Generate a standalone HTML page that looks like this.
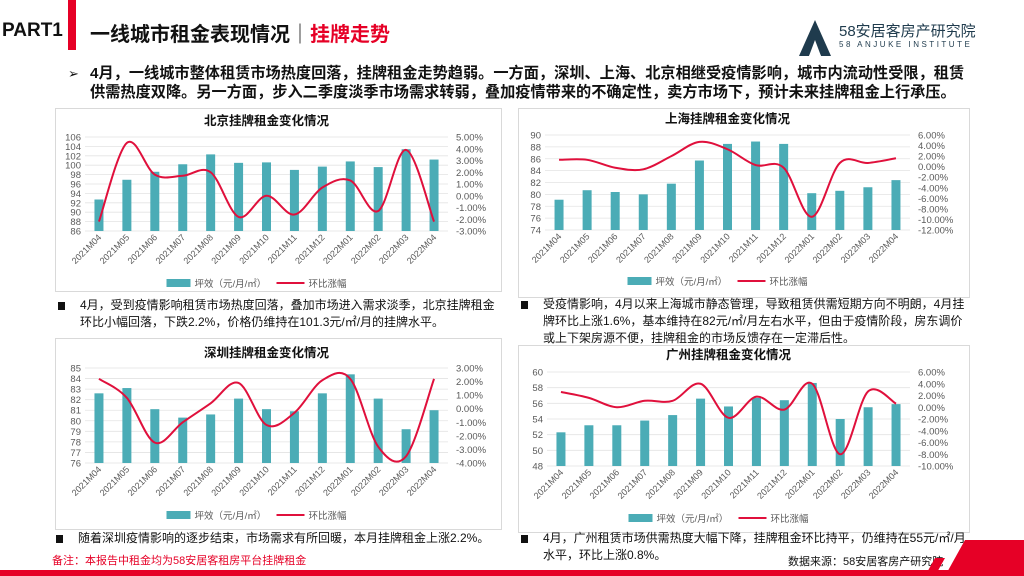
<!DOCTYPE html>
<html><head><meta charset="utf-8">
<style>
body{margin:0;width:1024px;height:576px;overflow:hidden;background:#fff;font-family:"Liberation Sans","Noto Sans CJK SC",sans-serif;position:relative}
.abs{position:absolute}
.panel{position:absolute;border:1px solid #d9d9d9;background:#fff}
.note{position:absolute;font-size:12px;line-height:17px;color:#111}
.note .sq{position:absolute;left:-22px;top:5px;width:7px;height:8px;background:#111}
svg text{font-family:"Liberation Sans","Noto Sans CJK SC",sans-serif}
</style></head><body>
<div class="abs" style="left:2px;top:20px;font-size:19px;font-weight:bold;color:#111">PART1</div>
<div class="abs" style="left:68px;top:0;width:8px;height:50px;background:#e60026"></div>
<div class="abs" style="left:90px;top:18px;font-size:20px;font-weight:bold;color:#111">一线城市租金表现情况<span style="font-weight:normal">｜</span><span style="color:#e60026">挂牌走势</span></div>
<div class="abs" style="left:795px;top:18px;width:200px;height:40px">
<svg width="40" height="40" viewBox="0 0 40 40"><polygon points="20,2 36,38 26,38 20,22 14,38 4,38" fill="#1f3b4d"/><polygon points="14,38 20,26 26,38" fill="#fff"/></svg>
<div class="abs" style="left:44px;top:2px;font-size:15px;color:#1f3b4d">58安居客房产研究院</div>
<div class="abs" style="left:44px;top:22px;font-size:8px;letter-spacing:2.5px;color:#1f3b4d">58 ANJUKE  INSTITUTE</div>
</div>
<div class="abs" style="left:68px;top:64px;width:940px;font-size:15.2px;font-weight:bold;line-height:19px;color:#111;white-space:nowrap"><span style="position:absolute;left:0;font-weight:normal;font-size:13px">➢</span><div style="padding-left:22px">4月，一线城市整体租赁市场热度回落，挂牌租金走势趋弱。一方面，深圳、上海、北京相继受疫情影响，城市内流动性受限，租赁<br>供需热度双降。另一方面，步入二季度淡季市场需求转弱，叠加疫情带来的不确定性，卖方市场下，预计未来挂牌租金上行承压。</div></div>

<div class="panel" style="left:55px;top:108px;width:445px;height:182px"></div>
<div class="panel" style="left:518px;top:108px;width:450px;height:188px"></div>
<div class="panel" style="left:55px;top:338px;width:445px;height:190px"></div>
<div class="panel" style="left:518px;top:345px;width:450px;height:186px"></div>

<svg id="charts" class="abs" style="left:0;top:0" width="1024" height="576"></svg>

<div class="note" style="left:80px;top:297px;width:420px"><span class="sq"></span>4月，受到疫情影响租赁市场热度回落，叠加市场进入需求淡季，北京挂牌租金环比小幅回落，下跌2.2%，价格仍维持在101.3元/㎡/月的挂牌水平。</div>
<div class="note" style="left:543px;top:296px;width:425px"><span class="sq"></span>受疫情影响，4月以来上海城市静态管理，导致租赁供需短期方向不明朗，4月挂牌环比上涨1.6%，基本维持在82元/㎡/月左右水平，但由于疫情阶段，房东调价或上下架房源不便，挂牌租金的市场反馈存在一定滞后性。</div>
<div class="note" style="left:78px;top:530px;width:420px"><span class="sq"></span>随着深圳疫情影响的逐步结束，市场需求有所回暖，本月挂牌租金上涨2.2%。</div>
<div class="note" style="left:543px;top:530px;width:425px"><span class="sq"></span>4月，广州租赁市场供需热度大幅下降，挂牌租金环比持平，仍维持在55元/㎡/月水平，环比上涨0.8%。</div>
<div class="abs" style="left:52px;top:552px;font-size:11px;color:#e60026">备注：本报告中租金均为58安居客租房平台挂牌租金</div>
<div class="abs" style="left:788px;top:553px;font-size:11px;color:#111">数据来源：58安居客房产研究院</div>
<svg class="abs" style="left:0;top:540px" width="1024" height="36"><polygon points="0,30 1024,30 1024,36 0,36" fill="#e60026"/><polygon points="945,36 965,0 1024,0 1024,36" fill="#e60026"/><polygon points="925,36 935,18 945,18 935,36" fill="#e60026"/></svg>

<script>
var months=["2021M04","2021M05","2021M06","2021M07","2021M08","2021M09","2021M10","2021M11","2021M12","2022M01","2022M02","2022M03","2022M04"];
var bjRent=[92.7,96.9,98.6,100.2,102.3,100.5,100.6,99.0,99.7,100.8,99.6,103.4,101.2];
var bjChg=[-2.2,4.5,1.8,1.7,2.0,-1.8,0.0,-1.6,0.7,1.3,-1.3,3.9,-2.2];
var shRent=[79.1,80.7,80.4,80.0,81.8,85.7,88.5,88.9,88.5,80.2,80.6,81.2,82.4];
var shChg=[1.3,1.3,-0.2,-0.5,2.0,4.7,3.3,0.3,-0.2,-9.5,0.7,0.7,1.6];
var szRent=[82.6,83.1,81.1,80.3,80.6,82.1,81.1,80.9,82.6,84.4,82.1,79.2,81.0];
var szChg=[2.2,0.8,-2.5,-1.0,0.4,1.9,-1.2,-0.3,2.1,2.2,-2.8,-3.5,2.2];
var gzRent=[52.3,53.2,53.2,53.8,54.5,56.6,55.6,56.7,56.4,58.6,54.0,55.5,55.9];
var gzChg=[2.6,1.6,0.0,1.1,1.1,4.0,-1.8,1.8,-0.4,4.0,-8.0,2.7,0.6];
var bjLeftTicks=[86,88,90,92,94,96,98,100,102,104,106];
var bjRightTicks=[-3,-2,-1,0,1,2,3,4,5];
var shLeftTicks=[74,76,78,80,82,84,86,88,90];
var shRightTicks=[-12,-10,-8,-6,-4,-2,0,2,4,6];
var szLeftTicks=[76,77,78,79,80,81,82,83,84,85];
var szRightTicks=[-4,-3,-2,-1,0,1,2,3];
var gzLeftTicks=[48,50,52,54,56,58,60];
var gzRightTicks=[-10,-8,-6,-4,-2,0,2,4,6];

var svg=document.getElementById('charts');
var NS='http://www.w3.org/2000/svg';
function mk(tag,attrs,parent){var e=document.createElementNS(NS,tag);for(var k in attrs)e.setAttribute(k,attrs[k]);(parent||svg).appendChild(e);return e;}
function chart(key,title,rent,chg,lt,rt,box){
  var g=mk('g',{});
  
  
  var x0=box.x0,x1=box.x1,yT=box.yT,yB=box.yB;
  var lmin=lt[0],lmax=lt[lt.length-1],rmin=rt[0],rmax=rt[rt.length-1];
  function yl(v){return yB-(v-lmin)/(lmax-lmin)*(yB-yT);}
  function yr(v){return yB-(v-rmin)/(rmax-rmin)*(yB-yT);}
  var n=months.length,step=(x1-x0)/n;
  function xc(i){return x0+step*(i+0.5);}
  var t=mk('text',{x:(x0+x1)/2,y:box.ty,'text-anchor':'middle','font-size':'12.5','font-weight':'bold',fill:'#111'},g);
  t.textContent=title;
  
  
  lt.forEach(function(v){
    var gl=mk('line',{x1:x0,x2:x1,y1:yl(v),y2:yl(v),stroke:'#e3e3e3','stroke-width':'0.8'},g);
    
    
    var tl=mk('text',{x:x0-4,y:yl(v)+3.5,'text-anchor':'end','font-size':'9.5',fill:'#595959'},g);
    tl.textContent=v;
    
    
  });
  rt.forEach(function(v){
    var tr=mk('text',{x:x1+8,y:yr(v)+3.5,'font-size':'9.5',fill:'#595959'},g);
    tr.textContent=v.toFixed(2)+'%';
    
    
  });
  rent.forEach(function(v,i){
    var b=mk('rect',{x:xc(i)-4.5,y:yl(v),width:9,height:yB-yl(v),fill:'#4bacb6'},g);
    
    
    var c=mk('text',{x:0,y:0,'text-anchor':'end','font-size':'9',fill:'#595959',transform:'translate('+(xc(i)+3)+','+(yB+7)+') rotate(-45)'},g);
    c.textContent=months[i];
    
    
  });
  var P=chg.map(function(v,i){return [xc(i),yr(v)];});
  var d='M'+P[0][0]+','+P[0][1];
  for(var i=0;i<P.length-1;i++){
    var p0=P[i-1]||P[i],p1=P[i],p2=P[i+1],p3=P[i+2]||P[i+1],k=6;
    d+=' C'+(p1[0]+(p2[0]-p0[0])/k)+','+(p1[1]+(p2[1]-p0[1])/k)+' '+(p2[0]-(p3[0]-p1[0])/k)+','+(p2[1]-(p3[1]-p1[1])/k)+' '+p2[0]+','+p2[1];
  }
  var ln=mk('path',{d:d,fill:'none',stroke:'#e0103c','stroke-width':'2'},g);
  
  
  var lx=(x0+x1)/2-100;
  var lb=mk('rect',{x:lx,y:box.ly-4,width:24,height:8,fill:'#4bacb6'},g);
  
  
  var lt1=mk('text',{x:lx+28,y:box.ly+4,'font-size':'9.5',fill:'#595959'},g);
  lt1.textContent='坪效（元/月/㎡）';
  
  
  var ll=mk('line',{x1:lx+110,x2:lx+138,y1:box.ly,y2:box.ly,stroke:'#e0103c','stroke-width':'2'},g);
  
  
  var lt2=mk('text',{x:lx+142,y:box.ly+4,'font-size':'9.5',fill:'#595959'},g);
  lt2.textContent='环比涨幅';
  
  
}
chart('beijing','北京挂牌租金变化情况',bjRent,bjChg,bjLeftTicks,bjRightTicks,{x0:85,x1:448,yT:137,yB:231,ty:125,ly:283});
chart('shanghai','上海挂牌租金变化情况',shRent,shChg,shLeftTicks,shRightTicks,{x0:545,x1:910,yT:135,yB:230,ty:123,ly:281});
chart('shenzhen','深圳挂牌租金变化情况',szRent,szChg,szLeftTicks,szRightTicks,{x0:85,x1:448,yT:368,yB:463,ty:357,ly:515});
chart('guangzhou','广州挂牌租金变化情况',gzRent,gzChg,gzLeftTicks,gzRightTicks,{x0:547,x1:910,yT:372,yB:466,ty:359,ly:518});
</script>
</body></html>
